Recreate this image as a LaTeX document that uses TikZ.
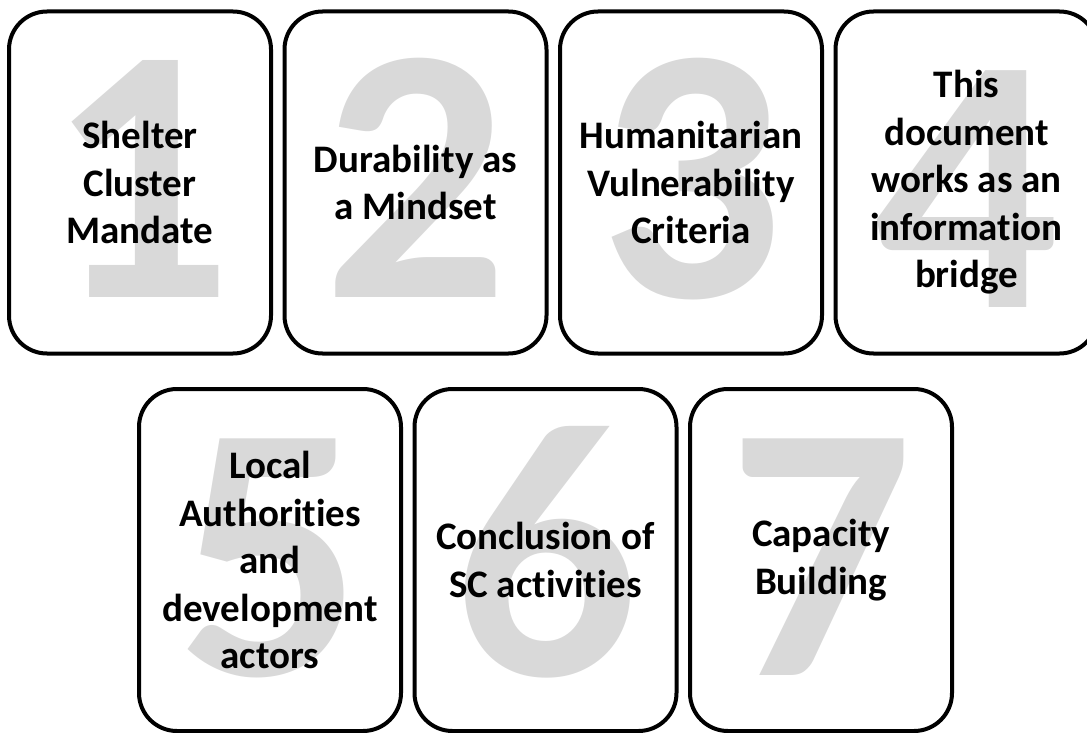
\documentclass[tikz,border=0pt]{standalone}
\usepackage{fontspec}
\setmainfont{Carlito}[Ligatures=NoCommon]
\usepackage{xcolor}
\definecolor{numgray}{HTML}{D9D9D9}
\usetikzlibrary{positioning, backgrounds, calc}

\begin{document}
\begin{tikzpicture}[x=1pt, y=-1pt,
  card/.style   = {draw=black, line width=4pt, rounded corners=38pt,
                   minimum width=262pt, minimum height=342pt,
                   outer sep=0pt, align=center, text=black,
                   font=\fontsize{39}{47.5}\selectfont\bfseries},
  bignum/.style = {text=numgray, anchor=base, inner sep=0pt,
                   font=\fontsize{365}{365}\selectfont\bfseries},
  node distance = 13.5pt
]
\clip (0,0) rectangle (1087,733);

% Top row
\node[card]               (b1) at (140,182.5) {Shelter\\Cluster\\Mandate};
\node[card, right=of b1]  (b2) {Durability as\\a Mindset};
\node[card, right=of b2]  (b3) {Humanitarian\\Vulnerability\\Criteria};
\node[card, right=of b3]  (b4) {This\\document\\works as an\\information\\bridge};

% Bottom row
\node[card]               (b5) at (270,560) {Local\\Authorities\\and\\development\\actors};
\node[card, right=of b5]  (b6) {Conclusion of\\SC activities};
\node[card, right=of b6]  (b7) {Capacity\\Building};

% Big numbers behind the text
\begin{scope}[on background layer]
\node[bignum] (n1) at ($(b1.north)+(0,286)$) {1};
\node[bignum] (n2) at ($(b2.north)+(0,286)$) {2};
\node[bignum] (n3) at ($(b3.north)+(0,286)$) {3};
\node[bignum] (n4) at ($(b4.north)+(0,296)$) {4};
\node[bignum] (n5) at ($(b5.north)+(0,286)$) {5};
\node[bignum] (n6) at ($(b6.north)+(0,286)$) {6};
\node[bignum] (n7) at ($(b7.north)+(0,286)$) {7};
\end{scope}

\end{tikzpicture}
\end{document}
